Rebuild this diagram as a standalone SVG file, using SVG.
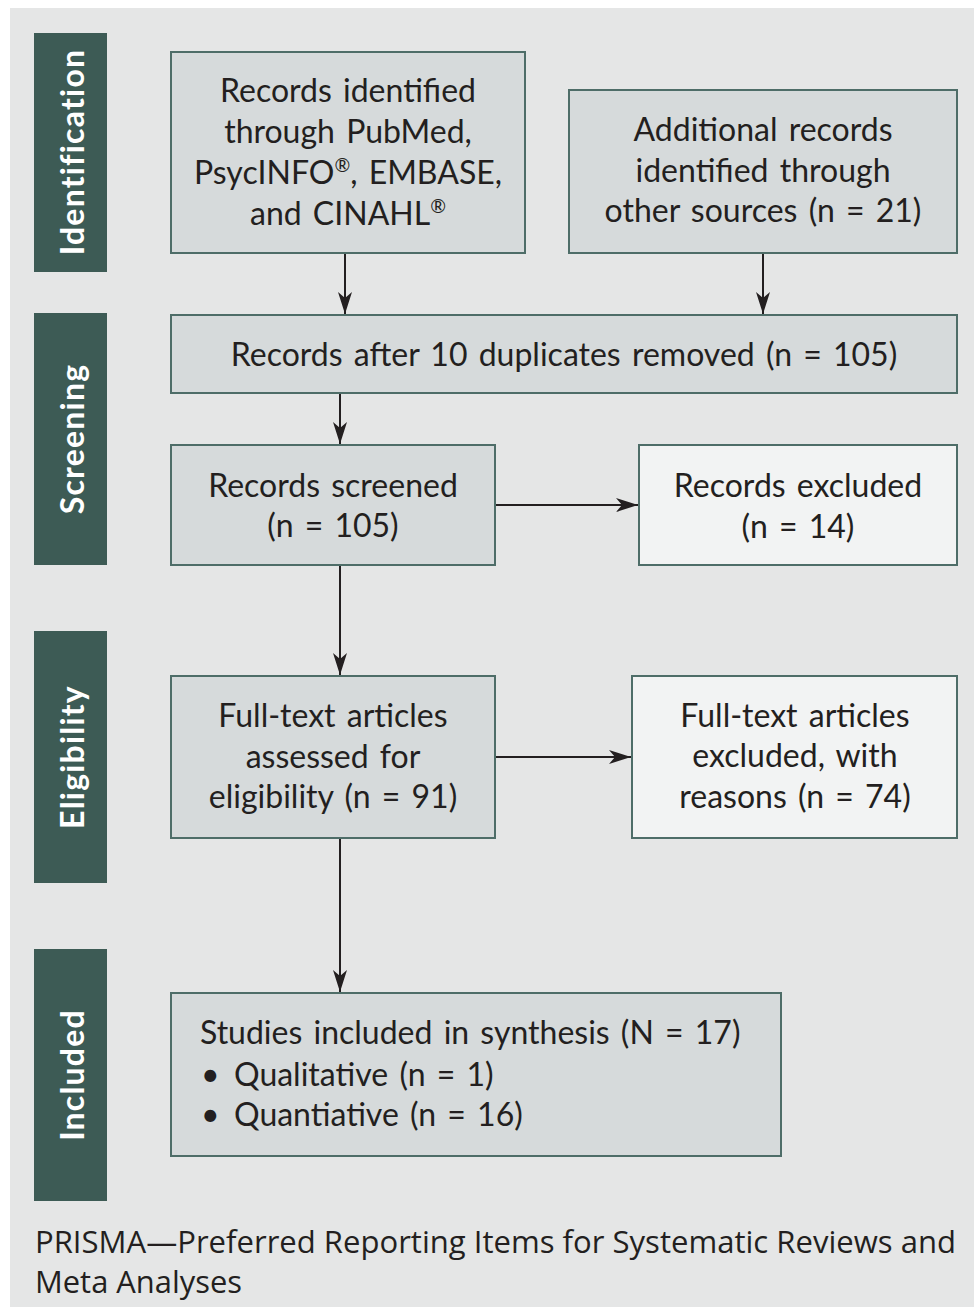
<svg xmlns="http://www.w3.org/2000/svg" width="974" height="1307" viewBox="0 0 974 1307">
<defs>
<style>
.bg{fill:#e5e6e6}
.side{fill:#3d5b55}
.box{fill:#d6dadb;stroke:#4e6d68;stroke-width:2}
.lbox{fill:#f2f3f3;stroke:#4e6d68;stroke-width:2}
.t{font-family:Lato,"Open Sans","Liberation Sans",sans-serif;font-size:32px;fill:#231f20;text-anchor:middle;word-spacing:3px}
.tl{text-anchor:start}
.s{font-family:Lato,"Open Sans","Liberation Sans",sans-serif;font-size:32px;font-weight:bold;fill:#ffffff;text-anchor:middle;letter-spacing:1.2px}
.c{stroke:#231f20;stroke-width:2;fill:none;marker-end:url(#ah)}
.f{font-family:"Open Sans","Liberation Sans",sans-serif;font-size:31px;fill:#231f20}
</style>
<marker id="ah" viewBox="0 0 22 14" refX="22" refY="7" markerWidth="22" markerHeight="14" markerUnits="userSpaceOnUse" orient="auto">
<path d="M0,0 L22,7 L0,14 L6,7 Z" fill="#231f20"/>
</marker>
</defs>
<rect x="0" y="0" width="974" height="1307" fill="#ffffff"/>
<rect class="bg" x="10" y="8" width="964" height="1299"/>

<g id="stage-identification">
<rect class="side" x="34" y="33" width="73" height="239"/>
<text class="s" transform="translate(84,152) rotate(-90)">Identification</text>
</g>
<g id="stage-screening">
<rect class="side" x="34" y="313" width="73" height="252"/>
<text class="s" transform="translate(84,439) rotate(-90)">Screening</text>
</g>
<g id="stage-eligibility">
<rect class="side" x="34" y="631" width="73" height="252"/>
<text class="s" transform="translate(84,757) rotate(-90)">Eligibility</text>
</g>
<g id="stage-included">
<rect class="side" x="34" y="949" width="73" height="252"/>
<text class="s" transform="translate(84,1075) rotate(-90)">Included</text>
</g>

<g id="connectors">
<line class="c" x1="345" y1="253" x2="345" y2="314"/>
<line class="c" x1="763" y1="253" x2="763" y2="314"/>
<line class="c" x1="340" y1="393" x2="340" y2="444"/>
<line class="c" x1="495" y1="505" x2="638" y2="505"/>
<line class="c" x1="340" y1="565" x2="340" y2="675"/>
<line class="c" x1="495" y1="757" x2="631" y2="757"/>
<line class="c" x1="340" y1="838" x2="340" y2="992"/>
</g>

<g id="node-databases">
<rect class="box" x="171" y="52" width="354" height="201"/>
<text class="t" x="348" y="102">Records identified</text>
<text class="t" x="348" y="143">through PubMed,</text>
<text class="t" x="348" y="184">PsycINFO<tspan font-size="19" dy="-12">®</tspan><tspan dy="12">, EMBASE,</tspan></text>
<text class="t" x="348" y="225">and CINAHL<tspan font-size="19" dy="-12">®</tspan></text>
</g>
<g id="node-other">
<rect class="box" x="569" y="90" width="388" height="163"/>
<text class="t" x="763" y="141">Additional records</text>
<text class="t" x="763" y="182">identified through</text>
<text class="t" x="763" y="222">other sources (n = 21)</text>
</g>
<g id="node-dedup">
<rect class="box" x="171" y="315" width="786" height="78"/>
<text class="t" x="564" y="366">Records after 10 duplicates removed (n = 105)</text>
</g>
<g id="node-screened">
<rect class="box" x="171" y="445" width="324" height="120"/>
<text class="t" x="333" y="497">Records screened</text>
<text class="t" x="333" y="537">(n = 105)</text>
</g>
<g id="node-excluded">
<rect class="lbox" x="639" y="445" width="318" height="120"/>
<text class="t" x="798" y="497">Records excluded</text>
<text class="t" x="798" y="538">(n = 14)</text>
</g>
<g id="node-fulltext">
<rect class="box" x="171" y="676" width="324" height="162"/>
<text class="t" x="333" y="727">Full-text articles</text>
<text class="t" x="333" y="768">assessed for</text>
<text class="t" x="333" y="808">eligibility (n = 91)</text>
</g>
<g id="node-fulltext-excluded">
<rect class="lbox" x="632" y="676" width="325" height="162"/>
<text class="t" x="795" y="727">Full-text articles</text>
<text class="t" x="795" y="767">excluded, with</text>
<text class="t" x="795" y="808">reasons (n = 74)</text>
</g>
<g id="node-included">
<rect class="box" x="171" y="993" width="610" height="163"/>
<text class="t tl" x="200" y="1044">Studies included in synthesis (N = 17)</text>
<text class="t tl" y="1086"><tspan x="201">•</tspan><tspan x="234">Qualitative (n = 1)</tspan></text>
<text class="t tl" y="1126"><tspan x="201">•</tspan><tspan x="234">Quantiative (n = 16)</tspan></text>
</g>

<g id="caption">
<text class="f" x="35" y="1253" textLength="921" lengthAdjust="spacingAndGlyphs">PRISMA—Preferred Reporting Items for Systematic Reviews and</text>
<text class="f" x="35" y="1293" textLength="207" lengthAdjust="spacingAndGlyphs">Meta Analyses</text>
</g>
</svg>
